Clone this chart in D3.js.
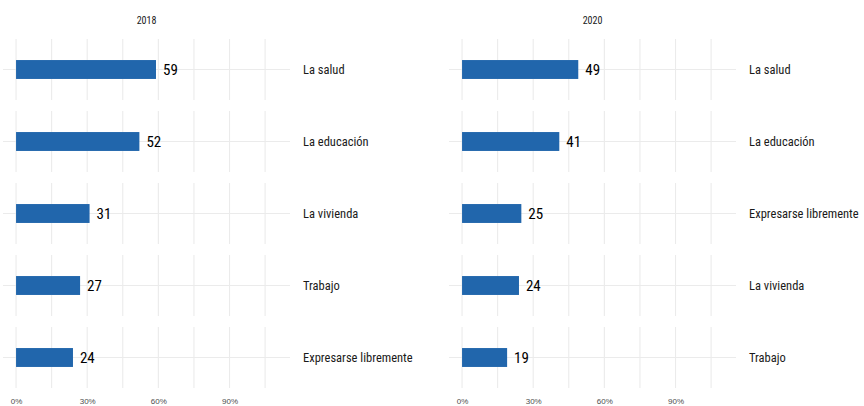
<!DOCTYPE html>
<html>
<head>
<meta charset="utf-8">
<script src="https://cdn.jsdelivr.net/npm/d3@7"></script>
<style>
  body { margin: 0; background: #fff; }
  svg { display: block; font-family: "Roboto Condensed", "Liberation Sans Narrow", "DejaVu Sans Condensed", Roboto, sans-serif; font-stretch: condensed; }
</style>
</head>
<body>
<div id="chart"></div>
<script>
var years = ["2018", "2020"];
var cats2018 = ["La salud", "La educación", "La vivienda", "Trabajo", "Expresarse libremente"];
var vals2018 = [59, 52, 31, 27, 24];
var cats2020 = ["La salud", "La educación", "Expresarse libremente", "La vivienda", "Trabajo"];
var vals2020 = [49, 41, 25, 24, 19];
var tickVals = [0, 30, 60, 90];
var gridVals = [0, 15, 30, 45, 60, 75, 90, 105];

var width = 864, height = 406;
var barColor = "#2166AC", gridColor = "#ebebeb";

var svg = d3.select("#chart")
            .append("svg")
            .attr("width", width)
            .attr("height", height);

var panels = [
    {year: years[0], cats: cats2018, vals: vals2018, x0: 3, x1: 290},
    {year: years[1], cats: cats2020, vals: vals2020, x0: 449, x1: 736}
];

panels.forEach(function(p){
    var g = svg.append("g");

    var x = d3.scaleLinear()
              .domain([-5.5, 115.5])
              .range([p.x0, p.x1]);

    var rows = d3.scaleBand()
                 .domain(p.cats)
                 .range([39, 388])
                 .paddingInner(11/72);

    var barH = rows.bandwidth() * 0.31;

    // year strip on top
    g.append("text")
        .attr("x", (p.x0 + p.x1)/2)
        .attr("y", 24)
        .attr("text-anchor", "middle")
        .attr("font-size", "10px")
        .attr("fill", "#1a1a1a")
        .text(p.year);

    p.cats.forEach(function(c, i){
        var top = rows(c);
        var mid = top + rows.bandwidth()/2;

        // vertical grid
        gridVals.forEach(function(v){
            g.append("line")
                .attr("x1", x(v)).attr("x2", x(v))
                .attr("y1", top).attr("y2", top + rows.bandwidth())
                .attr("stroke", gridColor)
                .attr("stroke-width", 1.1);
        });

        // horizontal grid
        g.append("line")
            .attr("x1", p.x0).attr("x2", p.x1)
            .attr("y1", mid).attr("y2", mid)
            .attr("stroke", gridColor)
            .attr("stroke-width", 1.1);

        g.append("rect")
            .attr("x", x(0))
            .attr("y", mid - barH/2)
            .attr("width", x(p.vals[i]) - x(0))
            .attr("height", barH)
            .attr("fill", barColor);

        g.append("text")
            .attr("x", x(p.vals[i]) + 7)
            .attr("y", mid)
            .attr("dy", "0.36em")
            .attr("font-size", "15px")
            .attr("fill", "#000")
            .text(p.vals[i]);

        // row strip label on the right
        g.append("text")
            .attr("x", p.x1 + 13)
            .attr("y", mid)
            .attr("dy", "0.36em")
            .attr("font-size", "12.5px")
            .attr("fill", "#1a1a1a")
            .text(c);
    });

    // bottom axis
    var axis = g.append("g")
                .attr("transform", "translate(0," + 388 + ")")
                .call(d3.axisBottom(x)
                        .tickValues(tickVals)
                        .tickSize(0)
                        .tickPadding(10)
                        .tickFormat(function(d){ return d + "%"; }));
    axis.select(".domain").remove();
    axis.selectAll("text")
        .attr("font-family", null)
        .attr("font-size", "8px")
        .attr("fill", "#4d4d4d");
});
</script>
</body>
</html>
